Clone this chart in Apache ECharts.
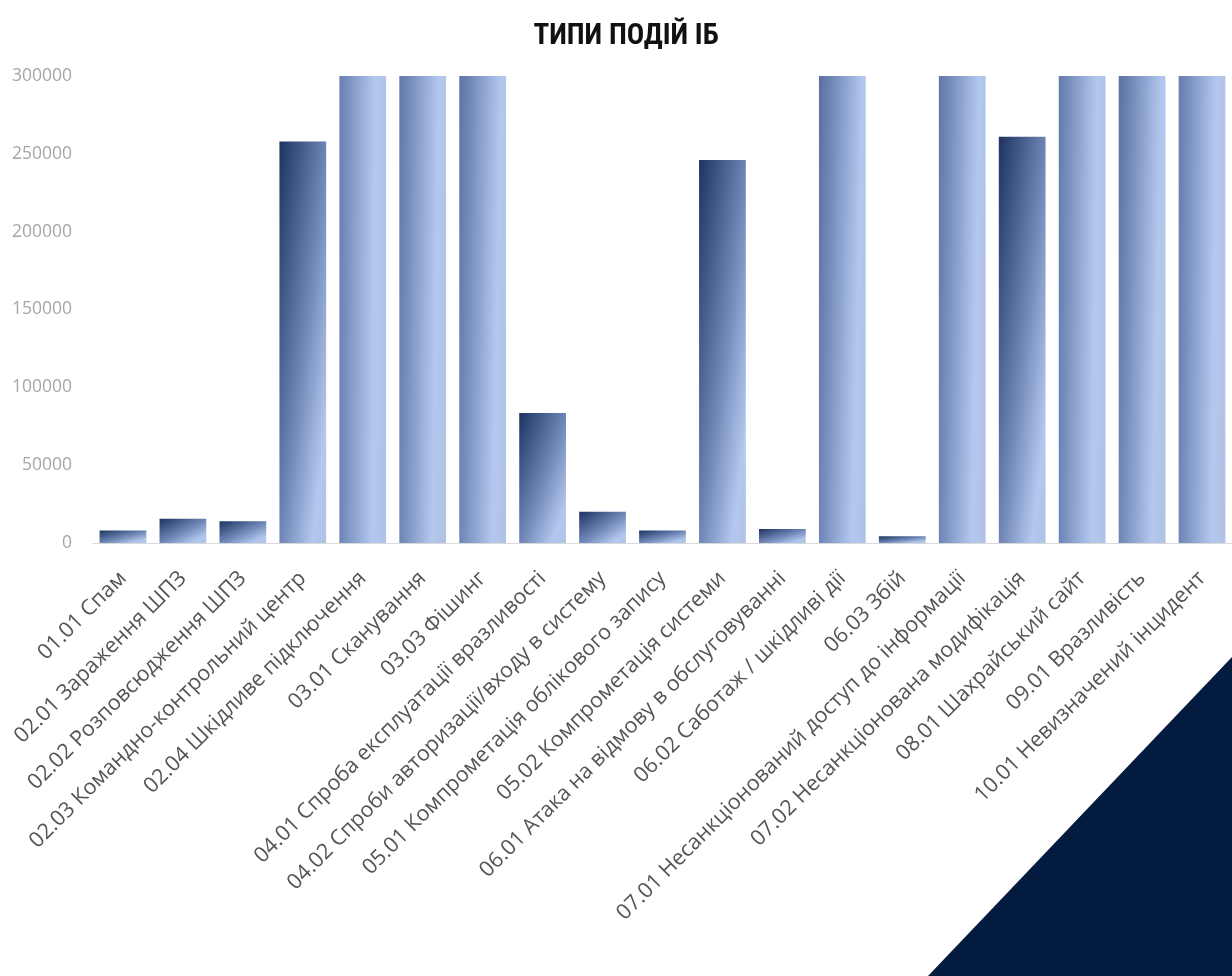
<!DOCTYPE html>
<html>
<head>
<meta charset="utf-8">
<title>Типи подій ІБ</title>
<script src="https://cdn.jsdelivr.net/npm/echarts@6/dist/echarts.min.js"></script>
<style>
  html, body { margin: 0; padding: 0; background: #ffffff; }
  #chart { width: 1232px; height: 976px; }
</style>
</head>
<body>
<div id="chart"></div>
<script>
// Event categories (x axis)
const categories = [
  '01.01 Спам',
  '02.01 Зараження ШПЗ',
  '02.02 Розповсюдження ШПЗ',
  '02.03 Командно-контрольний центр',
  '02.04 Шкідливе підключення',
  '03.01 Сканування',
  '03.03 Фішинг',
  '04.01 Спроба експлуатації вразливості',
  '04.02 Спроби авторизації/входу в систему',
  '05.01 Компрометація облікового запису',
  '05.02 Компрометація системи',
  '06.01 Атака на відмову в обслуговуванні',
  '06.02 Саботаж / шкідливі дії',
  '06.03 Збій',
  '07.01 Несанкціонований доступ до інформації',
  '07.02 Несанкціонована модифікація',
  '08.01 Шахрайський сайт',
  '09.01 Вразливість',
  '10.01 Невизначений інцидент'
];

// Event counts; several categories run far past the top of the axis
const eventCounts = [
  8000, 15500, 14000, 258000, 5000000, 2000000, 1500000, 83500, 20000,
  8000, 246000, 9000, 1200000, 4300, 1800000, 261000, 2500000, 1300000, 3000000
];

// Value axis range
const yMin = 0;
const yMax = 300000;
const yStep = 50000;

const TITLE = 'ТИПИ ПОДІЙ ІБ';

// Plot area geometry (pixels)
const GRID_LEFT = 93;
const GRID_TOP = 76;
const GRID_W = 1140;
const GRID_H = 467;
const GAP = 0.22;

const chart = echarts.init(document.getElementById('chart'), null, { renderer: 'canvas' });
const W = chart.getWidth();
const H = chart.getHeight();

const barPx = GRID_W / categories.length * (1 - GAP);

// Fill running from the top-left corner (dark) to the bottom-right corner
// (light) of the whole bar. For bars cut off at the top of the axis only
// the lower part of that fill stays visible.
function barFill(value) {
  const full = value / (yMax - yMin) * GRID_H;                 // whole bar height
  const vis = Math.min(value, yMax) / (yMax - yMin) * GRID_H;  // drawn height
  const w = barPx;
  const k = 2 / (1 / (w * w) + 1 / (full * full));
  const y0 = -(full - vis) / vis;   // top of whole bar, in drawn-box units
  return new echarts.graphic.LinearGradient(
    0, y0,
    k / (w * w), y0 + k / (full * vis),
    [
      { offset: 0, color: '#1d3360' },
      { offset: 0.5, color: '#6d84b5' },
      { offset: 0.85, color: '#b3c8ee' },
      { offset: 1, color: '#b0c2e4' }
    ]
  );
}

const barData = eventCounts.map(v => ({
  value: v,
  itemStyle: { color: barFill(v) }
}));

const option = {
  backgroundColor: '#ffffff',
  animation: false,
  title: {
    text: TITLE,
    left: 621,
    top: 17,
    textAlign: 'center',
    textStyle: {
      fontFamily: '"Liberation Sans Narrow", "Roboto Condensed", sans-serif',
      fontWeight: 'bold',
      fontSize: 29,
      color: '#111111'
    }
  },
  grid: {
    left: GRID_LEFT,
    top: GRID_TOP,
    width: GRID_W,
    height: GRID_H,
    containLabel: false
  },
  xAxis: {
    type: 'category',
    data: categories,
    axisLine: { show: true, lineStyle: { color: '#d9d9d9', width: 1 } },
    axisTick: { show: false },
    axisLabel: {
      interval: 0,
      rotate: 45,
      margin: 32,
      color: '#555555',
      fontFamily: '"Open Sans", "Noto Sans", sans-serif',
      fontSize: 21.5
    }
  },
  yAxis: {
    type: 'value',
    min: yMin,
    max: yMax,
    interval: yStep,
    axisLine: { show: false },
    axisTick: { show: false },
    splitLine: { show: false },
    axisLabel: {
      margin: 21,
      color: '#a6a6a6',
      fontFamily: '"Open Sans", "Noto Sans", sans-serif',
      fontSize: 17.5,
      formatter: v => String(v)
    }
  },
  series: [{
    type: 'bar',
    data: barData,
    barCategoryGap: (GAP * 100) + '%',
    clip: true
  }],
  graphic: [{
    type: 'polygon',
    silent: true,
    z: -1,
    shape: {
      points: [[W - 304, H], [W, H], [W, H - 319]]
    },
    style: { fill: '#021b3e' }
  }]
};

chart.setOption(option);
</script>
</body>
</html>
